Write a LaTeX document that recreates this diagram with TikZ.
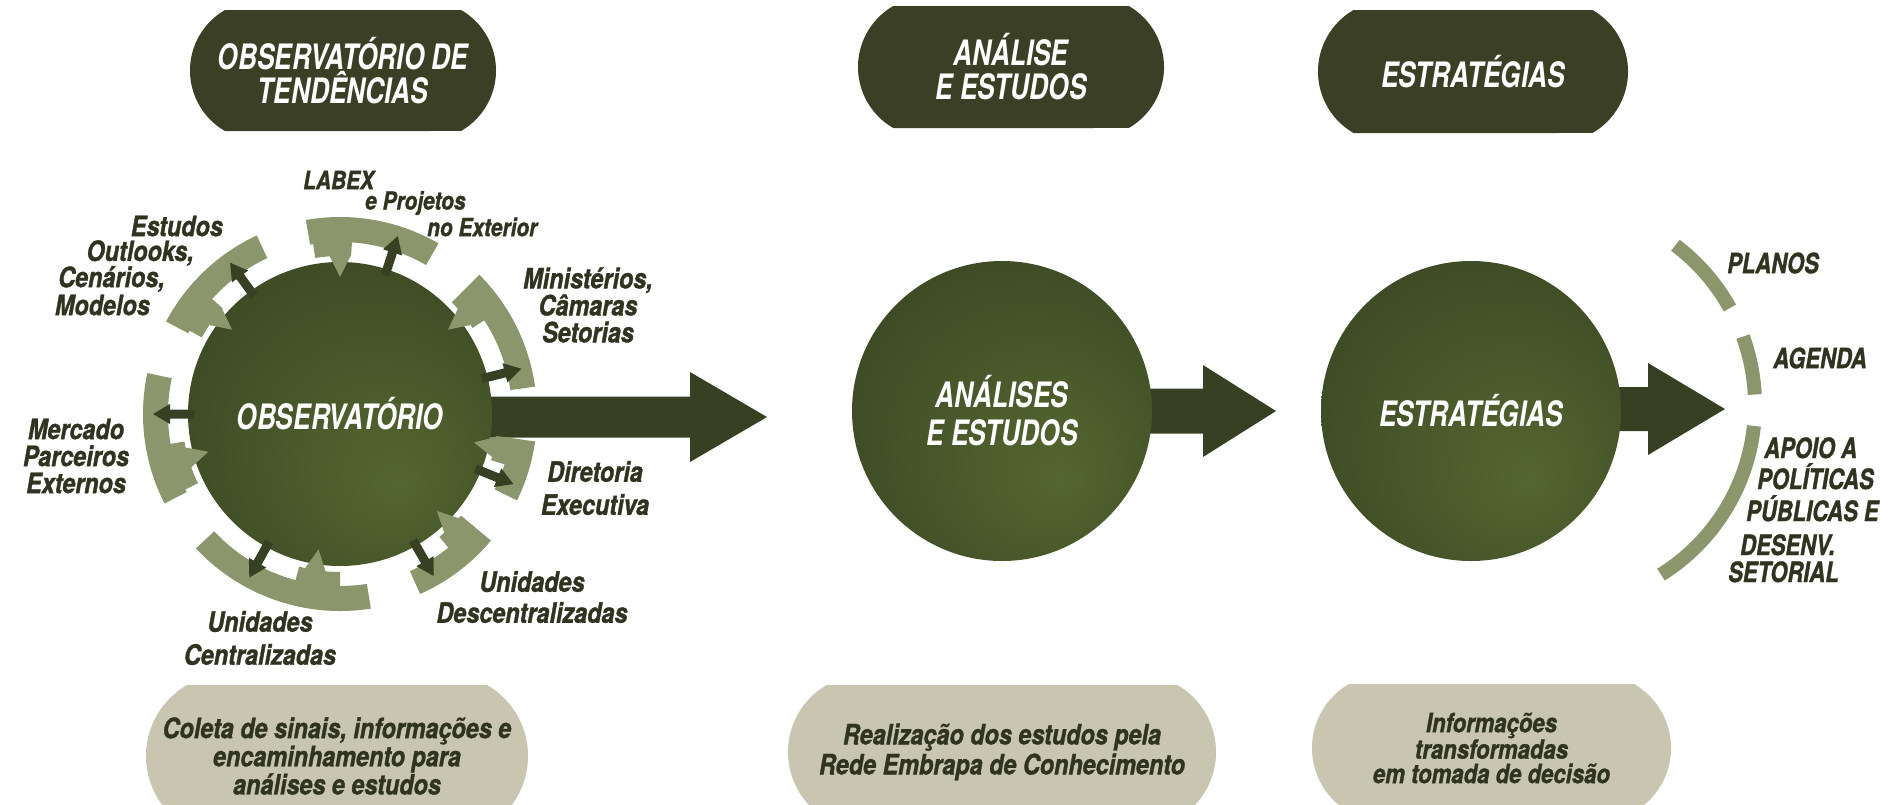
\documentclass[tikz,border=0pt]{standalone}
\usepackage{fontspec}
\setmainfont{TeX Gyre Heros}
\newfontfamily\whitefont{TeX Gyre Heros}[FakeStretch=0.75]
\newfontfamily\lblfont{TeX Gyre Heros}[FakeStretch=0.835, BoldItalicFeatures={FakeBold=1.2}]
\newfontfamily\rlblfont{TeX Gyre Heros}[FakeStretch=0.785, BoldItalicFeatures={FakeBold=1.2}]
\usetikzlibrary{shapes.misc,calc}
\definecolor{pilldark}{RGB}{59,63,37}
\definecolor{pilllight}{RGB}{200,197,176}
\definecolor{bandc}{RGB}{140,150,108}
\definecolor{arrowc}{RGB}{56,64,36}
\definecolor{lblc}{RGB}{47,52,32}
\definecolor{ballhi}{RGB}{84,102,48}
\definecolor{ballmid}{RGB}{72,87,42}
\definecolor{balledgeA}{RGB}{60,72,36}
\definecolor{balledgeB}{RGB}{50,60,31}
\pgfdeclareradialshading{ballshade}{\pgfpoint{10bp}{-12bp}}{color(0bp)=(ballhi); color(18bp)=(ballmid); color(34bp)=(balledgeA); color(50bp)=(balledgeB)}
\newcommand\fatarrow[5]{%
  \fill[arrowc] ($(#1 |- #2)+(0,#3)$) -- ($(#2)+(-#4,#3)$) -- ($(#2)+(-#4,#5)$) -- (#2)
    -- ($(#2)+(-#4,-#5)$) -- ($(#2)+(-#4,-#3)$) -- ($(#1 |- #2)+(0,-#3)$) -- cycle;}
\begin{document}
\begin{tikzpicture}[x=1pt,y=1pt,
  bigball/.style={circle, shading=ballshade, minimum size=#1, inner sep=0pt, text=white,
    align=center, font=\whitefont\bfseries\itshape\fontsize{35}{38}\selectfont},
  toppill/.style={rounded rectangle, rounded rectangle arc length=120, fill=pilldark,
    inner sep=0pt, text=white, align=center,
    font=\whitefont\bfseries\itshape\fontsize{35}{34}\selectfont},
  botpill/.style={rounded rectangle, rounded rectangle arc length=120, fill=pilllight,
    inner sep=0pt, text=lblc, align=center,
    font=\lblfont\bfseries\itshape\fontsize{28}{25}\selectfont},
  lbl/.style={text=lblc, inner sep=0pt, align=center,
    font=\lblfont\bfseries\itshape\fontsize{28}{27}\selectfont},
  lblsm/.style={text=lblc, inner sep=0pt, align=center,
    font=\lblfont\bfseries\itshape\fontsize{25}{24}\selectfont},
  lblr/.style={text=lblc, inner sep=0pt, align=center,
    font=\rlblfont\bfseries\itshape\fontsize{28}{25}\selectfont}]
\useasboundingbox (0,0) rectangle (1897,-804);

% header pills
\node[toppill, minimum width=306, minimum height=121] (tp1) at (343,-70.5) {OBSERVATÓRIO DE\\TENDÊNCIAS};
\node[toppill, minimum width=306, minimum height=122] (tp2) at (1011,-67) {ANÁLISE\\E ESTUDOS};
\node[toppill, minimum width=310, minimum height=123] (tp3) at (1473,-71.5) {ESTRATÉGIAS};

% bottom pills (cut by the lower edge of the picture)
\node[botpill, minimum width=382, minimum height=142] (bp1) at (337,-756) {Coleta de sinais, informações e\\encaminhamento para\\análises e estudos};
\node[botpill, minimum width=428, minimum height=134, font=\lblfont\bfseries\itshape\fontsize{28}{30}\selectfont] (bp2) at (1002,-752) {Realização dos estudos pela\\Rede Embrapa de Conhecimento};
\node[botpill, minimum width=359, minimum height=128, font=\lblfont\bfseries\itshape\fontsize{26.5}{24.5}\selectfont] (bp3) at (1491.5,-748) {Informações\\transformadas\\em tomada de decisão};

% tips of the big arrows
\coordinate (t1) at (767,-417);
\coordinate (t2) at (1276,-411);
\coordinate (t3) at (1725,-409);
\coordinate (obsc) at (340,-414);
\coordinate (anac) at (1002,-411);
\coordinate (estc) at (1471,-411);
\fatarrow{obsc}{t1}{20.5}{77}{45}
\fatarrow{anac}{t2}{22.5}{73}{46}
\fatarrow{estc}{t3}{22}{77}{46}

% circles
\node[bigball=304] (obs) at (obsc) {OBSERVATÓRIO};
\node[bigball=300] (ana) at (anac) {ANÁLISES\\E ESTUDOS};
\node[bigball=300] (est) at (estc) {ESTRATÉGIAS};

% segments around the observatory
\begin{scope}[shift={(obs.center)}]
\foreach \a/\b/\ha/\hb/\l/\d in {60/100/86/99/90/72, 115/152/138/151/142/126,
    168/207/190/206/196/180, 223/279/255/270/261/241, 294/320/309/320/315/300,
    334/352/343/352/348/338, 8/45/33/45/38/14}{
  \fill[bandc] (\a:172) arc[start angle=\a, end angle=\b, radius=172]
     -- (\b:197) arc[start angle=\b, end angle=\a, radius=197] -- cycle;
  \fill[bandc] (\ha:158) arc[start angle=\ha, end angle=\hb, radius=158]
     -- (\hb:173) arc[start angle=\hb, end angle=\ha, radius=173] -- cycle;
  \fill[bandc, rotate=\l] (159,11) -- (137,0) -- (159,-11) -- cycle;
  \fill[arrowc, rotate=\d] (146,4.5) -- (170,4.5) -- (170,10) -- (187,0)
     -- (170,-10) -- (170,-4.5) -- (146,-4.5) -- cycle;
}
\end{scope}

% labels around the observatory
\node[lblsm, anchor=west] (lab1) at (303,-180) {LABEX};
\node[lblsm, anchor=west] (lab2) at (365,-203) {e Projetos};
\node[lblsm, anchor=west] (lab3) at (427,-227) {no Exterior};
\node[lbl, anchor=east] (es1) at (223,-226) {Estudos};
\node[lbl, anchor=east] (es2) at (194,-253) {Outlooks,};
\node[lbl, anchor=east] (es3) at (165,-279) {Cenários,};
\node[lbl, anchor=east] (es4) at (150,-305) {Modelos};
\node[lbl] (mini) at (588,-305) {Ministérios,\\Câmaras\\Setorias};
\node[lbl] (merc) at (76,-456) {Mercado\\Parceiros\\Externos};
\node[lbl, font=\lblfont\bfseries\itshape\fontsize{28}{33}\selectfont] (dire) at (595,-488) {Diretoria\\Executiva};
\node[lbl, font=\lblfont\bfseries\itshape\fontsize{28}{31}\selectfont] (desc) at (532,-597) {Unidades\\Descentralizadas};
\node[lbl, font=\lblfont\bfseries\itshape\fontsize{28}{33}\selectfont] (cent) at (260,-638) {Unidades\\Centralizadas};

% outcome arcs
\coordinate (rc) at (1555,-405);
\draw[bandc, line width=14] ($(rc)+(29:200)$) arc[start angle=29, end angle=53, radius=200];
\draw[bandc, line width=14] ($(rc)+(3:200)$) arc[start angle=3, end angle=20, radius=200];
\draw[bandc, line width=14] ($(rc)+(-58:200)$) arc[start angle=-58, end angle=-6, radius=200];
\node[lblr] (plan) at (1773,-263) {PLANOS};
\node[lblr] (agen) at (1820,-358) {AGENDA};
\node[lblr, anchor=base west] (ap1) at (1764,-458) {APOIO A};
\node[lblr, anchor=base west] (ap2) at (1757,-489) {POLÍTICAS};
\node[lblr, anchor=base west] (ap3) at (1746,-521) {PÚBLICAS E};
\node[lblr, anchor=base west] (dsv) at (1740,-555) {DESENV.};
\node[lblr, anchor=base west] (setr) at (1728,-582) {SETORIAL};
\end{tikzpicture}
\end{document}
